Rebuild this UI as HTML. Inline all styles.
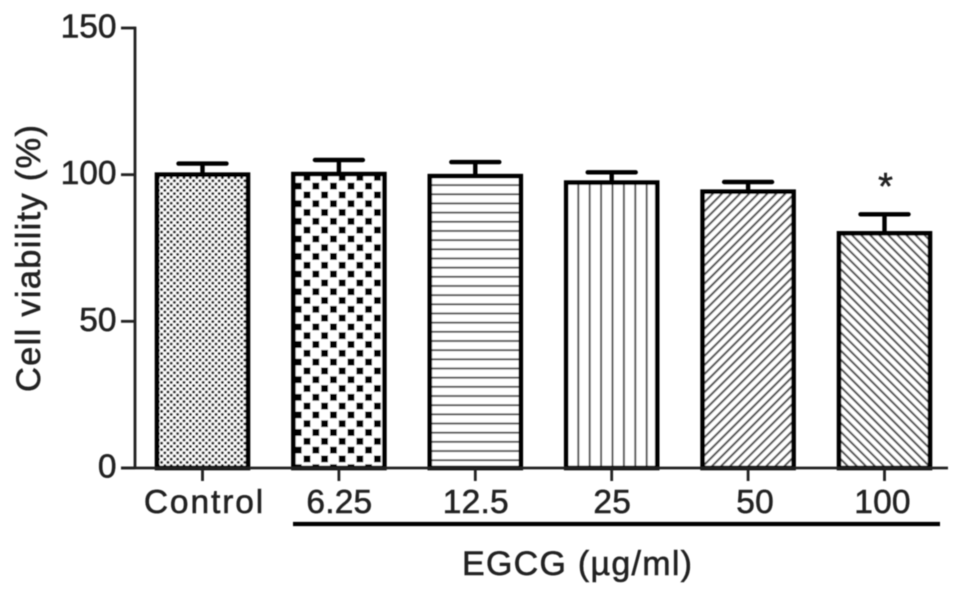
<!DOCTYPE html>
<html>
<head>
<meta charset="utf-8">
<style>
html,body{margin:0;padding:0;background:#fff;width:969px;height:594px;overflow:hidden}
svg{display:block}
text{font-family:"Liberation Sans",sans-serif;fill:#222;stroke:#222;stroke-width:0.55}
</style>
</head>
<body>
<svg id="chart" xmlns="http://www.w3.org/2000/svg" width="969" height="594" viewBox="0 0 969 594">
<defs>
<filter id="soft" x="-5%" y="-5%" width="110%" height="110%"><feGaussianBlur stdDeviation="0.55"/></filter>
<filter id="softText" x="-5%" y="-5%" width="110%" height="110%"><feGaussianBlur stdDeviation="0.45"/></filter>
<pattern id="p0" patternUnits="userSpaceOnUse" width="6.4" height="6.4"><rect width="6.4" height="6.4" fill="#fff"/><circle cx="1.6" cy="1.6" r="1.5" fill="#222"/><circle cx="4.8" cy="4.8" r="1.5" fill="#222"/></pattern>
<pattern id="p1" patternUnits="userSpaceOnUse" width="17.6" height="17.6" x="312.4" y="182.7"><rect width="17.6" height="17.6" fill="#fff"/><rect x="0" y="0" width="6.8" height="6.8" fill="#000"/><rect x="8.8" y="8.8" width="6.8" height="6.8" fill="#000"/></pattern>
<pattern id="p2" patternUnits="userSpaceOnUse" width="10" height="9.17" y="180.5"><rect width="10" height="9.17" fill="#fff"/><rect y="3.7" width="10" height="1.8" fill="#444"/></pattern>
<pattern id="p3" patternUnits="userSpaceOnUse" width="11.4" height="10" x="572.3"><rect width="11.4" height="10" fill="#fff"/><rect x="5" width="2" height="10" fill="#555"/></pattern>
<pattern id="p4" patternUnits="userSpaceOnUse" width="6.4" height="6.4" patternTransform="rotate(45)"><rect width="6.4" height="6.4" fill="#fff"/><rect width="2.1" height="6.4" fill="#555"/></pattern>
<pattern id="p5" patternUnits="userSpaceOnUse" width="6.4" height="6.4" patternTransform="rotate(-45)"><rect width="6.4" height="6.4" fill="#fff"/><rect width="2.1" height="6.4" fill="#555"/></pattern>
</defs>
<g id="marks" filter="url(#soft)"></g>
<g id="labels" filter="url(#softText)"></g>
</svg>
<script>
const categories = ["Control", "6.25", "12.5", "25", "50", "100"];
const viability = [100, 100.2, 99.5, 97.3, 94.2, 80];
const errorBars = [3.8, 4.8, 4.8, 3.5, 3.3, 6.5];
const significance = ["", "", "", "", "", "*"];
const yTicks = [0, 50, 100, 150];

const NS = "http://www.w3.org/2000/svg";
const marks = document.getElementById("marks");
const labels = document.getElementById("labels");
const yScale = v => 468 - v * (440 / 150);
const xCenter = i => 202.5 + i * 136.4;
const barWidth = 91;

function make(tag, attrs, parent, content) {
  const el = document.createElementNS(NS, tag);
  for (const k in attrs) el.setAttribute(k, attrs[k]);
  if (content !== undefined) el.textContent = content;
  parent.appendChild(el);
  return el;
}

function labelNudge(i) {
  if (i === 4) return 7;
  if (i === 5) return -2;
  return i === 0 ? 2 : 0.5;
}

categories.forEach((cat, i) => {
  const cx = xCenter(i), top = yScale(viability[i]), errTop = yScale(viability[i] + errorBars[i]);
  const bar = make("rect", {x: cx - barWidth / 2, y: top, width: barWidth, height: 468 - top, fill: "url(#p" + i + ")", stroke: "#000", "stroke-width": 4.6}, marks);
  
  
  const stem = make("line", {x1: cx, x2: cx, y1: errTop, y2: top, stroke: "#000", "stroke-width": 4.4}, marks);
  
  
  const cap = make("line", {x1: cx - 24, x2: cx + 24, y1: errTop, y2: errTop, stroke: "#000", "stroke-width": 4.4, "stroke-linecap": "round"}, marks);
  
  
  const tick = make("line", {x1: cx, x2: cx, y1: 468, y2: 481, stroke: "#222", "stroke-width": 2.8}, marks);
  
  
  const lab = make("text", {x: cx + labelNudge(i), y: 513, "text-anchor": "middle", "font-size": 33.5, "letter-spacing": i === 0 ? 1.9 : 0.2}, labels, cat);
  
  
  if (significance[i]) {
    const star = make("text", {x: cx + 1, y: 199, "text-anchor": "middle", "font-size": 38, "stroke-width": 0}, labels, significance[i]);
    
    
  }
});

yTicks.forEach(t => {
  const y = yScale(t);
  const tick = make("line", {x1: 121, x2: 135, y1: y, y2: y, stroke: "#222", "stroke-width": 2.8}, marks);
  
  
  const lab = make("text", {x: 116.5, y: y + 9.5, "text-anchor": "end", "font-size": 33.5}, labels, String(t));
  
  
});

const yAxis = make("line", {x1: 135, x2: 135, y1: yScale(150) - 1.4, y2: 469, stroke: "#222", "stroke-width": 2.8}, marks);


const xAxis = make("line", {x1: 121, x2: 948, y1: 468, y2: 468, stroke: "#222", "stroke-width": 2.8}, marks);


const bracket = make("line", {x1: 293, x2: 940, y1: 524, y2: 524, stroke: "#000", "stroke-width": 4.2}, marks);



const yTitle = make("text", {transform: "translate(40 392) rotate(-90)", "font-size": 34.5, textLength: 267, lengthAdjust: "spacing"}, labels, "Cell viability (%)");


const xTitle = make("text", {x: 462, y: 575, "font-size": 34, textLength: 230, lengthAdjust: "spacing"}, labels, "EGCG (\u00b5g/ml)");


</script>
</body>
</html>
